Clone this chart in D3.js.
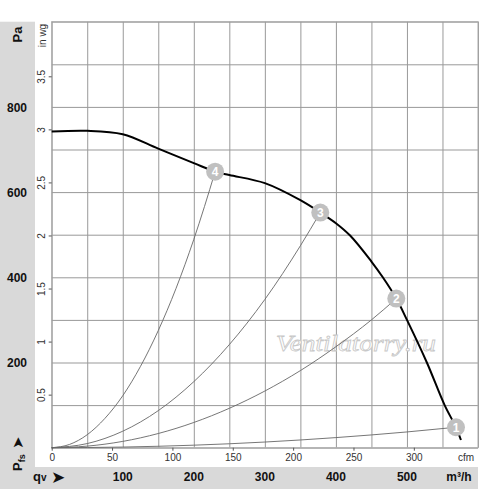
<!DOCTYPE html>
<html>
<head>
<meta charset="utf-8">
<script src="https://cdn.jsdelivr.net/npm/d3@7"></script>
<style>
  body { margin: 0; background: #fff; }
  text { font-family: "Liberation Sans", Arial, sans-serif; }
</style>
</head>
<body>
<svg id="chart" width="500" height="489"></svg>
<script>

// fan curve, flow in m3/h and static pressure in Pa
var fanFlow  = [0, 50, 100, 150, 200, 230, 250, 300, 350, 378, 400, 420, 450, 466, 485, 500, 528, 553, 569, 576];
var fanPress = [742, 744, 736, 702, 668, 648, 640, 621, 581, 552, 527, 498, 437, 400, 350, 300, 200, 100, 48, 18];

// system curves 1..4
var sys1Flow  = [0, 100, 200, 300, 400, 500, 569];
var sys1Press = [0, 1.5, 5.9, 13.3, 23.7, 37, 48];
var sys2Flow  = [0, 50, 100, 150, 200, 250, 300, 350, 400, 450, 485];
var sys2Press = [0, 3.7, 14.8, 33.3, 59.2, 92.5, 133, 181, 237, 300, 350];
var sys3Flow  = [0, 50, 100, 150, 200, 250, 300, 350, 378];
var sys3Press = [0, 9.7, 38.7, 87, 155, 242, 348, 474, 552];
var sys4Flow  = [0, 25, 50, 75, 100, 125, 150, 175, 200, 215, 230];
var sys4Press = [0, 7.6, 30.5, 69, 122, 191, 275, 374, 489, 566, 648];

// operating points
var pointFlow   = [569, 485, 378, 230];
var pointPress  = [48, 350, 552, 648];
var pointLabels = ["1", "2", "3", "4"];

// tick labels
var paTicks   = [200, 400, 600, 800];
var inwgTicks = [0.5, 1, 1.5, 2, 2.5, 3, 3.5];
var cfmTicks  = [0, 50, 100, 150, 200, 250, 300];
var m3hTicks  = [100, 200, 300, 400, 500];

var svg = d3.select("#chart");

var plotLeft = 51.7, plotRight = 478, plotTop = 21.7, plotBottom = 447.7;

var x = d3.scaleLinear().domain([0, 600]).range([plotLeft, plotRight]);
var y = d3.scaleLinear().domain([0, 1000]).range([plotBottom, plotTop]);
// secondary units
var xCfm = d3.scaleLinear().domain([0, 600 / 1.699]).range([plotLeft, plotRight]);
var yIn  = d3.scaleLinear().domain([0, 1000 / 249.09]).range([plotBottom, plotTop]);

// grey bands
svg.append("rect")
    .attr("x", 0).attr("y", plotTop)
    .attr("width", 35).attr("height", 489 - plotTop)
    .attr("fill", "#d9d9d9");
svg.append("rect")
    .attr("x", 0).attr("y", 467)
    .attr("width", plotRight).attr("height", 22)
    .attr("fill", "#d9d9d9");

// grid
var gridX = svg.append("g")
    .attr("transform", `translate(0, ${plotBottom})`)
    .call(d3.axisBottom(x).ticks(12).tickSize(-(plotBottom - plotTop)).tickFormat(""));
var gridY = svg.append("g")
    .attr("transform", `translate(${plotLeft}, 0)`)
    .call(d3.axisLeft(y).ticks(10).tickSize(-(plotRight - plotLeft)).tickFormat(""));
[gridX, gridY].forEach(function(g) {
    g.select(".domain").remove();
    g.selectAll("line").attr("stroke", "#999").attr("stroke-width", 1);
});

svg.append("rect")
    .attr("x", plotLeft).attr("y", plotTop)
    .attr("width", plotRight - plotLeft).attr("height", plotBottom - plotTop)
    .attr("fill", "none")
    .attr("stroke", "#aaa");

// watermark
svg.append("text")
    .attr("x", 276).attr("y", 351)
    .attr("textLength", 160)
    .attr("lengthAdjust", "spacingAndGlyphs")
    .style("font-family", "'Liberation Serif', 'Times New Roman', serif")
    .style("font-style", "italic")
    .attr("font-size", 24)
    .attr("fill", "#fff")
    .attr("stroke", "#c8c8c8")
    .attr("stroke-width", 0.8)
    .text("Ventilatorry.ru");

// system curves
var curveLine = d3.line()
    .x(d => x(d[0]))
    .y(d => y(d[1]))
    .curve(d3.curveMonotoneX);

var sysData = [
    d3.zip(sys1Flow, sys1Press),
    d3.zip(sys2Flow, sys2Press),
    d3.zip(sys3Flow, sys3Press),
    d3.zip(sys4Flow, sys4Press)
];

svg.append("g").selectAll("path")
    .data(sysData)
    .enter()
    .append("path")
    .attr("d", curveLine)
    .attr("fill", "none")
    .attr("stroke", "#666")
    .attr("stroke-width", 0.9);

// fan curve
var fanLine = d3.line()
    .x(d => x(d[0]))
    .y(d => y(d[1]))
    .curve(d3.curveCatmullRom.alpha(0.5));

svg.append("path")
    .datum(d3.zip(fanFlow, fanPress))
    .attr("d", fanLine)
    .attr("fill", "none")
    .attr("stroke", "#000")
    .attr("stroke-width", 2);

// operating point markers
var marks = svg.append("g").selectAll("g")
    .data(pointLabels)
    .enter()
    .append("g")
    .attr("transform", (d, i) => `translate(${x(pointFlow[i])}, ${y(pointPress[i])})`);

marks.append("circle")
    .attr("r", 9)
    .attr("fill", "#c0c0c0");

marks.append("text")
    .attr("text-anchor", "middle")
    .attr("dy", "0.36em")
    .attr("font-size", 12)
    .attr("font-weight", "bold")
    .attr("fill", "#fff")
    .text(d => d);

// Pa labels in the grey band
var paAxis = svg.append("g")
    .call(d3.axisLeft(y).tickValues(paTicks).tickSize(0));
paAxis.select(".domain").remove();
paAxis.selectAll("text")
    .attr("x", 17)
    .attr("dy", "0.36em")
    .attr("text-anchor", "middle")
    .style("font-family", "'Liberation Sans', Arial, sans-serif")
    .attr("font-size", 12)
    .attr("font-weight", "bold")
    .attr("fill", "#111");

// in wg axis
var inAxis = svg.append("g")
    .attr("transform", `translate(${plotLeft}, 0)`)
    .call(d3.axisLeft(yIn).tickValues(inwgTicks).tickSize(3).tickFormat(d => String(d)));
inAxis.select(".domain").remove();
inAxis.selectAll("line").attr("stroke", "#555");
inAxis.selectAll("text")
    .attr("x", null)
    .attr("dy", null)
    .attr("transform", "translate(-6.5, 0) rotate(-90)")
    .attr("text-anchor", "middle")
    .style("font-family", "'Liberation Sans', Arial, sans-serif")
    .attr("font-size", 10)
    .attr("fill", "#333");

// cfm axis
var cfmAxis = svg.append("g")
    .attr("transform", `translate(0, ${plotBottom})`)
    .call(d3.axisBottom(xCfm).tickValues(cfmTicks).tickSize(3).tickPadding(3));
cfmAxis.select(".domain").remove();
cfmAxis.selectAll("line").attr("stroke", "#555");
cfmAxis.selectAll("text")
    .style("font-family", "'Liberation Sans', Arial, sans-serif")
    .attr("font-size", 10)
    .attr("fill", "#333");

svg.append("text")
    .attr("x", 466).attr("y", 461)
    .attr("text-anchor", "middle")
    .attr("font-size", 10)
    .attr("fill", "#333")
    .text("cfm");

// m3/h labels in the bottom band
svg.append("g").selectAll("text")
    .data(m3hTicks)
    .enter()
    .append("text")
    .attr("x", d => x(d))
    .attr("y", 481)
    .attr("text-anchor", "middle")
    .attr("font-size", 12)
    .attr("font-weight", "bold")
    .attr("fill", "#111")
    .text(d => d);

svg.append("text")
    .attr("x", 459).attr("y", 481)
    .attr("text-anchor", "middle")
    .attr("font-size", 12)
    .attr("font-weight", "bold")
    .attr("fill", "#111")
    .text("m³/h");

var qv = svg.append("text")
    .attr("x", 33).attr("y", 481)
    .attr("font-size", 13)
    .attr("font-weight", "bold")
    .attr("fill", "#111");
qv.append("tspan").text("q");
qv.append("tspan").attr("font-size", 10).text("v");
svg.append("text")
    .attr("x", 51).attr("y", 483)
    .style("font-family", "'DejaVu Sans', sans-serif")
    .attr("font-size", 17)
    .attr("fill", "#111")
    .text("➤");

// vertical axis titles
svg.append("text")
    .attr("transform", "translate(21.5, 34.5) rotate(-90)")
    .attr("text-anchor", "middle")
    .attr("font-size", 13)
    .attr("font-weight", "bold")
    .attr("fill", "#111")
    .text("Pa");

svg.append("text")
    .attr("transform", "translate(45.5, 35.5) rotate(-90)")
    .attr("text-anchor", "middle")
    .attr("font-size", 10)
    .attr("fill", "#333")
    .text("in wg");

var pfs = svg.append("text")
    .attr("transform", "translate(21.5, 471) rotate(-90)")
    .attr("font-size", 13)
    .attr("font-weight", "bold")
    .attr("fill", "#111");
pfs.append("tspan").text("P");
pfs.append("tspan").attr("font-size", 9).attr("dy", 3).text("fs");
svg.append("text")
    .attr("transform", "translate(22.5, 449) rotate(-90)")
    .style("font-family", "'DejaVu Sans', sans-serif")
    .attr("font-size", 15)
    .attr("fill", "#111")
    .text("➤");

</script>
</body>
</html>
